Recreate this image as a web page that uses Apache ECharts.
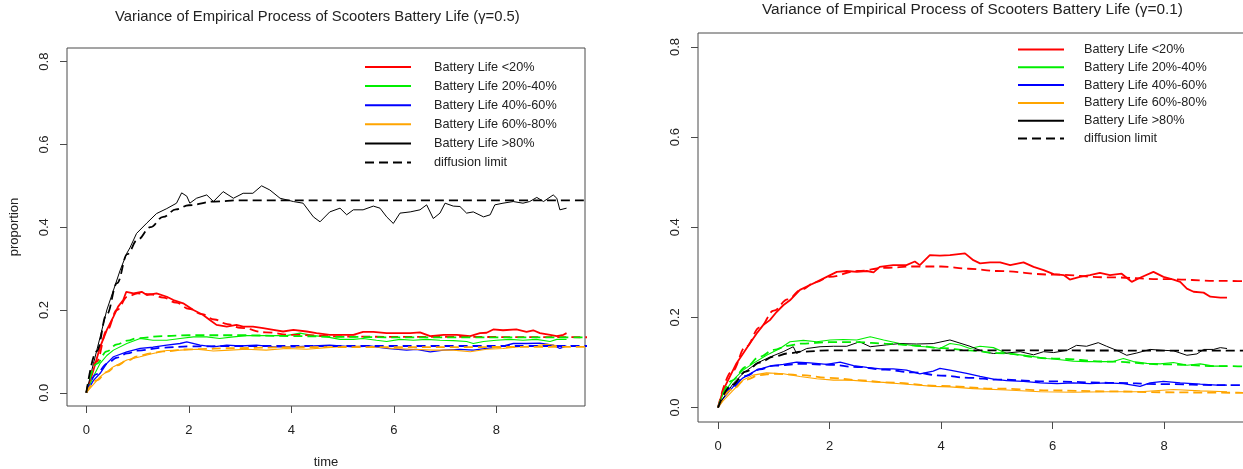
<!DOCTYPE html>
<html>
<head>
<meta charset="utf-8">
<title>Variance of Empirical Process of Scooters Battery Life</title>
<script src="https://cdn.jsdelivr.net/npm/echarts@6/dist/echarts.min.js"></script>
<style>
  html, body { margin: 0; padding: 0; background: #ffffff; }
  #chart { width: 1243px; height: 469px; }
</style>
</head>
<body>
<div id="chart"></div>
<script>
// ---- labels and ticks ----
const groupNames = ['Battery Life <20%', 'Battery Life 20%-40%', 'Battery Life 40%-60%', 'Battery Life 60%-80%', 'Battery Life >80%'];
const limitName = 'diffusion limit';
const panelTitles = ['Variance of Empirical Process of Scooters Battery Life (\u03b3=0.5)',
                     'Variance of Empirical Process of Scooters Battery Life (\u03b3=0.1)'];
const xTicks = [0, 2, 4, 6, 8];
const yTicks = [0, 0.2, 0.4, 0.6, 0.8];
const xName = 'time';
const yName = 'proportion';

// ---- gamma = 0.5 : empirical paths [time, proportion] ----
const g05Low = [[0,0],[0.14,0.055],[0.27,0.111],[0.40,0.152],[0.53,0.184],[0.62,0.208],[0.72,0.224],[0.78,0.244],[0.92,0.240],[1.08,0.244],[1.18,0.236],[1.37,0.240],[1.57,0.232],[1.70,0.224],[1.89,0.216],[2.09,0.200],[2.28,0.188],[2.41,0.176],[2.54,0.164],[2.74,0.160],[2.93,0.164],[3.06,0.160],[3.25,0.160],[3.45,0.156],[3.65,0.152],[3.84,0.148],[4.04,0.152],[4.30,0.148],[4.49,0.144],[4.75,0.140],[4.95,0.140],[5.21,0.140],[5.40,0.147],[5.60,0.147],[5.86,0.144],[6.12,0.144],[6.32,0.144],[6.51,0.146],[6.71,0.137],[6.97,0.140],[7.23,0.140],[7.49,0.137],[7.68,0.144],[7.81,0.145],[7.94,0.153],[8.13,0.151],[8.39,0.153],[8.59,0.147],[8.72,0.151],[8.85,0.144],[9.05,0.140],[9.18,0.137],[9.31,0.140],[9.37,0.144]];
const g05Mid1 = [[0,0],[0.14,0.040],[0.27,0.071],[0.40,0.090],[0.53,0.103],[0.79,0.119],[1.05,0.131],[1.30,0.127],[1.57,0.127],[1.83,0.131],[2.09,0.135],[2.35,0.135],[2.60,0.131],[2.87,0.135],[3.12,0.138],[3.51,0.138],[3.90,0.138],[4.17,0.144],[4.43,0.138],[4.69,0.135],[4.95,0.129],[5.21,0.129],[5.40,0.131],[5.66,0.127],[5.86,0.124],[6.12,0.129],[6.38,0.127],[6.64,0.129],[6.90,0.127],[7.16,0.126],[7.42,0.124],[7.55,0.119],[7.75,0.124],[8.00,0.127],[8.26,0.129],[8.52,0.127],[8.78,0.129],[9.05,0.124],[9.18,0.129],[9.37,0.129]];
const g05Mid2 = [[0,0],[0.14,0.030],[0.27,0.047],[0.40,0.071],[0.53,0.087],[0.79,0.099],[1.05,0.107],[1.30,0.110],[1.57,0.115],[1.83,0.119],[1.96,0.123],[2.22,0.115],[2.48,0.111],[2.74,0.115],[3.00,0.113],[3.32,0.115],[3.65,0.111],[4.04,0.111],[4.43,0.113],[4.75,0.115],[5.21,0.111],[5.53,0.113],[5.86,0.107],[6.25,0.103],[6.44,0.105],[6.71,0.099],[6.97,0.103],[7.29,0.105],[7.55,0.103],[7.81,0.107],[8.07,0.111],[8.33,0.119],[8.59,0.119],[8.85,0.120],[9.11,0.115],[9.24,0.107],[9.37,0.113]];
const g05Mid3 = [[0,0],[0.14,0.020],[0.27,0.039],[0.40,0.051],[0.53,0.063],[0.79,0.079],[1.05,0.087],[1.30,0.095],[1.57,0.102],[1.83,0.103],[2.15,0.105],[2.48,0.101],[2.80,0.103],[3.12,0.105],[3.51,0.103],[3.90,0.107],[4.30,0.105],[4.69,0.109],[5.21,0.113],[5.60,0.111],[5.99,0.107],[6.38,0.105],[6.77,0.103],[7.16,0.103],[7.49,0.099],[7.81,0.105],[8.13,0.107],[8.46,0.111],[8.72,0.113],[8.98,0.117],[9.24,0.113],[9.37,0.111]];
const g05High = [[0,0],[0.14,0.071],[0.27,0.135],[0.40,0.200],[0.53,0.248],[0.66,0.296],[0.79,0.337],[0.85,0.350],[0.98,0.385],[1.18,0.410],[1.37,0.433],[1.57,0.445],[1.76,0.458],[1.86,0.483],[1.96,0.475],[2.02,0.458],[2.15,0.470],[2.35,0.478],[2.48,0.462],[2.67,0.486],[2.87,0.470],[3.06,0.482],[3.25,0.482],[3.42,0.500],[3.58,0.490],[3.78,0.470],[4.04,0.462],[4.23,0.458],[4.43,0.425],[4.56,0.413],[4.75,0.437],[4.95,0.446],[5.08,0.430],[5.21,0.442],[5.40,0.442],[5.60,0.451],[5.73,0.446],[5.86,0.425],[5.99,0.409],[6.12,0.434],[6.32,0.437],[6.51,0.442],[6.64,0.454],[6.77,0.421],[6.90,0.434],[7.00,0.458],[7.16,0.451],[7.29,0.450],[7.42,0.434],[7.55,0.437],[7.75,0.425],[7.88,0.430],[7.97,0.454],[8.13,0.458],[8.33,0.462],[8.52,0.458],[8.65,0.462],[8.79,0.472],[8.92,0.462],[9.11,0.478],[9.18,0.470],[9.24,0.442],[9.37,0.446]];

// ---- gamma = 0.5 : diffusion limits ----
const g05LowLim = [[0,0],[0.2,0.075],[0.4,0.150],[0.6,0.200],[0.8,0.232],[1.0,0.240],[1.25,0.238],[1.5,0.230],[1.75,0.218],[2.0,0.203],[2.25,0.190],[2.5,0.177],[2.75,0.166],[3.0,0.157],[3.5,0.146],[4.0,0.140],[5.0,0.136],[6.0,0.135],[10,0.134]];
const g05Mid1Lim = [[0,0],[0.2,0.070],[0.4,0.100],[0.6,0.117],[0.8,0.126],[1.0,0.132],[1.5,0.137],[2.0,0.139],[3.0,0.139],[4.0,0.137],[5.0,0.135],[6.0,0.134],[10,0.134]];
const g05Mid2Lim = [[0,0],[0.2,0.045],[0.4,0.070],[0.6,0.085],[0.8,0.095],[1.0,0.102],[1.5,0.109],[2.0,0.112],[3.0,0.113],[10,0.113]];
const g05Mid3Lim = [[0,0],[0.2,0.030],[0.4,0.050],[0.6,0.066],[0.8,0.078],[1.0,0.088],[1.25,0.095],[1.5,0.100],[2.0,0.105],[3.0,0.108],[4.0,0.110],[10,0.111]];
const g05HighLim = [[0,0],[0.2,0.100],[0.4,0.190],[0.6,0.265],[0.8,0.335],[1.0,0.370],[1.25,0.400],[1.5,0.425],[1.75,0.443],[2.0,0.453],[2.5,0.462],[3.0,0.465],[10,0.465]];

// ---- gamma = 0.1 : empirical paths ----
const g01Low = [[0,0],[0.09,0.038],[0.21,0.068],[0.33,0.098],[0.45,0.120],[0.57,0.142],[0.69,0.164],[0.81,0.183],[0.93,0.194],[1.05,0.212],[1.17,0.227],[1.29,0.238],[1.47,0.261],[1.65,0.272],[1.77,0.279],[1.95,0.290],[2.13,0.301],[2.31,0.303],[2.49,0.301],[2.67,0.303],[2.79,0.300],[2.90,0.312],[3.14,0.316],[3.38,0.316],[3.53,0.324],[3.62,0.316],[3.80,0.338],[3.98,0.337],[4.16,0.338],[4.43,0.342],[4.58,0.327],[4.70,0.320],[4.88,0.322],[5.06,0.322],[5.24,0.316],[5.48,0.322],[5.66,0.312],[5.84,0.305],[6.02,0.296],[6.20,0.294],[6.31,0.284],[6.49,0.290],[6.67,0.294],[6.85,0.299],[7.03,0.294],[7.24,0.297],[7.42,0.279],[7.57,0.288],[7.81,0.301],[7.99,0.290],[8.17,0.284],[8.29,0.279],[8.41,0.264],[8.53,0.257],[8.71,0.255],[8.83,0.246],[9.01,0.244],[9.13,0.244]];
const g01Mid1 = [[0,0],[0.09,0.030],[0.27,0.061],[0.45,0.083],[0.63,0.098],[0.87,0.116],[1.11,0.131],[1.29,0.146],[1.53,0.149],[1.77,0.146],[2.01,0.150],[2.25,0.151],[2.49,0.150],[2.73,0.157],[2.97,0.150],[3.26,0.142],[3.56,0.136],[3.86,0.134],[3.98,0.131],[4.16,0.142],[4.34,0.139],[4.52,0.131],[4.70,0.136],[4.94,0.133],[5.18,0.120],[5.42,0.117],[5.66,0.113],[5.90,0.109],[6.14,0.106],[6.37,0.103],[6.61,0.102],[6.85,0.102],[7.09,0.102],[7.27,0.109],[7.45,0.102],[7.69,0.098],[7.93,0.097],[8.17,0.100],[8.41,0.094],[8.65,0.097],[8.89,0.092],[9.13,0.092]];
const g01Mid2 = [[0,0],[0.09,0.020],[0.27,0.046],[0.45,0.066],[0.69,0.083],[0.93,0.092],[1.17,0.096],[1.41,0.101],[1.65,0.099],[1.95,0.096],[2.19,0.101],[2.43,0.093],[2.67,0.089],[2.91,0.086],[3.14,0.086],[3.38,0.083],[3.62,0.075],[3.86,0.081],[3.98,0.087],[4.16,0.083],[4.46,0.076],[4.70,0.069],[4.94,0.063],[5.18,0.060],[5.48,0.058],[5.78,0.055],[6.08,0.053],[6.37,0.055],[6.67,0.053],[6.97,0.055],[7.27,0.053],[7.57,0.047],[7.75,0.055],[7.99,0.058],[8.29,0.055],[8.65,0.052],[8.95,0.050],[9.13,0.050]];
const g01Mid3 = [[0,0],[0.09,0.015],[0.27,0.038],[0.45,0.061],[0.63,0.072],[0.87,0.077],[1.17,0.075],[1.47,0.069],[1.77,0.064],[2.07,0.061],[2.37,0.061],[2.67,0.058],[2.97,0.056],[3.26,0.053],[3.56,0.050],[3.86,0.047],[4.16,0.046],[4.58,0.042],[5.18,0.039],[5.78,0.035],[6.37,0.034],[6.97,0.035],[7.57,0.035],[8.17,0.040],[8.65,0.037],[9.13,0.035]];
const g01High = [[0,0],[0.09,0.020],[0.27,0.053],[0.45,0.076],[0.69,0.098],[0.93,0.112],[1.17,0.124],[1.35,0.135],[1.41,0.120],[1.59,0.131],[1.83,0.135],[2.07,0.136],[2.31,0.136],[2.54,0.146],[2.73,0.135],[3.02,0.139],[3.26,0.142],[3.56,0.141],[3.86,0.142],[4.16,0.150],[4.34,0.143],[4.52,0.136],[4.76,0.124],[4.94,0.120],[5.18,0.121],[5.42,0.124],[5.66,0.117],[5.84,0.124],[6.02,0.122],[6.26,0.127],[6.43,0.138],[6.61,0.136],[6.82,0.144],[6.97,0.136],[7.15,0.127],[7.33,0.116],[7.51,0.121],[7.75,0.129],[7.99,0.127],[8.17,0.126],[8.41,0.116],[8.59,0.119],[8.71,0.129],[8.89,0.129],[9.01,0.133],[9.13,0.131]];

// ---- gamma = 0.1 : diffusion limits ----
const g01LowLim = [[0,0],[0.25,0.080],[0.5,0.135],[0.75,0.178],[1.0,0.215],[1.25,0.240],[1.5,0.262],[1.75,0.278],[2.0,0.290],[2.5,0.303],[3.0,0.310],[3.5,0.313],[4.0,0.313],[4.5,0.308],[5.0,0.303],[6.0,0.295],[7.0,0.289],[8.0,0.285],[9.0,0.281],[10,0.279]];
const g01Mid1Lim = [[0,0],[0.25,0.060],[0.5,0.090],[0.75,0.113],[1.0,0.128],[1.25,0.137],[1.5,0.142],[2.0,0.145],[2.5,0.145],[3.0,0.142],[3.5,0.138],[4.0,0.132],[4.5,0.127],[5.0,0.121],[6.0,0.109],[7.0,0.102],[8.0,0.096],[9.0,0.092],[10,0.089]];
const g01Mid2Lim = [[0,0],[0.25,0.045],[0.5,0.070],[0.75,0.085],[1.0,0.093],[1.5,0.097],[2.0,0.095],[2.5,0.090],[3.0,0.084],[3.5,0.078],[4.0,0.071],[4.5,0.066],[5.0,0.062],[6.0,0.058],[7.0,0.055],[8.0,0.052],[9.0,0.050],[10,0.049]];
const g01Mid3Lim = [[0,0],[0.25,0.040],[0.5,0.062],[0.75,0.072],[1.0,0.075],[1.5,0.072],[2.0,0.066],[2.5,0.061],[3.0,0.056],[4.0,0.048],[5.0,0.042],[6.0,0.038],[7.0,0.036],[8.0,0.034],[9.0,0.033],[10,0.032]];
const g01HighLim = [[0,0],[0.25,0.050],[0.5,0.080],[0.75,0.100],[1.0,0.113],[1.25,0.120],[1.5,0.124],[2.0,0.127],[3.0,0.127],[10,0.126]];

// ---- assembly ----
const paths = [
  [g05Low, g05Mid1, g05Mid2, g05Mid3, g05High],
  [g01Low, g01Mid1, g01Mid2, g01Mid3, g01High]
];
const limits = [
  [g05LowLim, g05Mid1Lim, g05Mid2Lim, g05Mid3Lim, g05HighLim],
  [g01LowLim, g01Mid1Lim, g01Mid2Lim, g01Mid3Lim, g01HighLim]
];

const FONT = '"Liberation Sans", Arial, Helvetica, sans-serif';
const INK = '#222222';
const BOX = '#4a4a4a';
const colors = ['#ff0000', '#00ee00', '#0000ff', '#ffa500', '#000000'];
const pathWidths = [1.8, 1.1, 1.3, 1.1, 1.0];
const DASH = [9, 5];

// panel geometry: plot box in pixels and the value range it spans
const panels = [
  { left: 67, top: 48, width: 518, height: 358, xMin: -0.377, xMax: 9.73, yMin: -0.032, yMax: 0.833,
    titleLeft: 115, titleTop: 9.5, titleSize: 14.8,
    legendLeft: 364, legendTop: 60, legendGap: 5.1, textPad: 18, names: true },
  { left: 698, top: 33, width: 553, height: 389, xMin: -0.359, xMax: 9.56, yMin: -0.032, yMax: 0.831,
    titleLeft: 762, titleTop: 2, titleSize: 15.4,
    legendLeft: 1017, legendTop: 42.5, legendGap: 3.8, textPad: 15, names: false }
];

const chart = echarts.init(document.getElementById('chart'), null, { renderer: 'canvas' });

const grid = [], xAxis = [], yAxis = [], title = [], legend = [], series = [];

panels.forEach((p, k) => {
  grid.push({ left: p.left, top: p.top, width: p.width, height: p.height,
              show: true, borderColor: BOX, borderWidth: 1, backgroundColor: 'transparent',
              containLabel: false, outerBoundsMode: 'none' });
  xAxis.push({
    gridIndex: k, type: 'value', min: p.xMin, max: p.xMax, position: 'bottom',
    name: p.names ? xName : '', nameLocation: 'middle', nameGap: 50,
    nameTextStyle: { fontFamily: FONT, fontSize: 13, color: INK },
    axisLine: { show: false, onZero: false }, splitLine: { show: false },
    axisTick: { show: true, inside: false, length: 7, customValues: xTicks, lineStyle: { color: BOX, width: 1 } },
    axisLabel: { customValues: xTicks, margin: 18, fontFamily: FONT, fontSize: 13, color: INK }
  });
  yAxis.push({
    gridIndex: k, type: 'value', min: p.yMin, max: p.yMax, position: 'left',
    name: p.names ? yName : '', nameLocation: 'middle', nameGap: 46, nameRotate: 90,
    nameTextStyle: { fontFamily: FONT, fontSize: 13, color: INK },
    axisLine: { show: false, onZero: false }, splitLine: { show: false },
    axisTick: { show: true, inside: false, length: 7, customValues: yTicks, lineStyle: { color: BOX, width: 1 } },
    axisLabel: { customValues: yTicks, rotate: 90, margin: 16, fontFamily: FONT, fontSize: 13, color: INK,
                 formatter: v => v.toFixed(1) }
  });
  title.push({
    text: panelTitles[k], left: p.titleLeft, top: p.titleTop, padding: 0,
    textStyle: { fontFamily: FONT, fontSize: p.titleSize, fontWeight: 'normal', color: INK }
  });
  legend.push({
    orient: 'vertical', left: p.legendLeft, top: p.legendTop, padding: 0,
    itemWidth: 46, itemHeight: 14, itemGap: p.legendGap,
    selectedMode: false, data: groupNames.concat([limitName]),
    itemStyle: { opacity: 0 },
    textStyle: { fontFamily: FONT, fontSize: 12.7, lineHeight: 14, color: INK, padding: [0, 0, 0, p.textPad] }
  });

  groupNames.forEach((name, i) => {
    series.push({
      name: name, type: 'line', xAxisIndex: k, yAxisIndex: k,
      data: paths[k][i], symbol: 'none', color: colors[i],
      lineStyle: { color: colors[i], width: pathWidths[i] },
      clip: true, silent: true, z: 2
    });
    series.push({
      name: name + ' (' + limitName + ')', type: 'line', xAxisIndex: k, yAxisIndex: k,
      data: limits[k][i], symbol: 'none', color: colors[i], smooth: 0.4, smoothMonotone: 'x',
      lineStyle: { color: colors[i], width: 1.8, type: DASH },
      clip: true, silent: true, z: 3
    });
  });
});

// legend-only entry for the dashed limit curves
series.push({
  name: limitName, type: 'line', xAxisIndex: 0, yAxisIndex: 0, data: [],
  symbol: 'none', color: '#000000', lineStyle: { color: '#000000', width: 1.8, type: DASH }
});

chart.setOption({
  animation: false,
  backgroundColor: '#ffffff',
  title, legend, grid, xAxis, yAxis, series
});
</script>
</body>
</html>
